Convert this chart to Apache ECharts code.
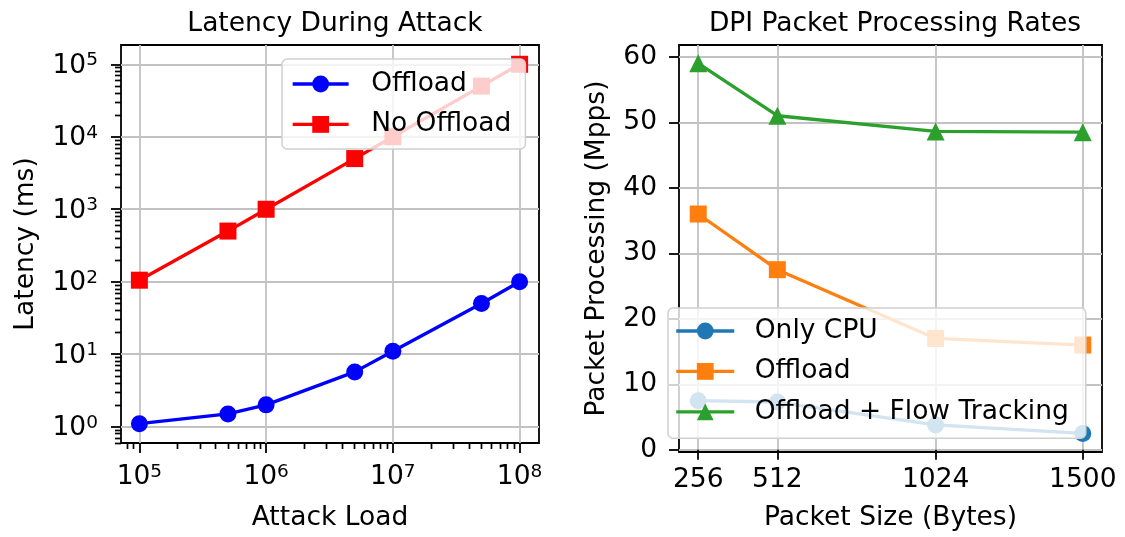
<!DOCTYPE html>
<html>
<head>
<meta charset="utf-8">
<script src="https://cdn.jsdelivr.net/npm/echarts@6/dist/echarts.min.js"></script>
<style>
  html, body { margin: 0; padding: 0; background: #ffffff; }
  #chart { width: 1125px; height: 537px; }
</style>
</head>
<body>
<div id="chart"></div>
<script>
// ---- Left panel: latency during attack (log-log) ----
const attackLoad       = [1e5, 5e5, 1e6, 5e6, 1e7, 5e7, 1e8];
const latencyOffload   = [1.1, 1.5, 2, 5.7, 11, 50, 100];
const latencyNoOffload = [105, 500, 1000, 5000, 10000, 50000, 100000];
const loadTicks        = [1e5, 1e6, 1e7, 1e8];
const latencyTicks     = [1, 10, 100, 1000, 10000, 100000];

// ---- Right panel: DPI packet processing rates ----
const packetSizes  = [256, 512, 1024, 1500];
const rateOnlyCpu  = [7.5, 7.3, 3.8, 2.5];
const rateOffload  = [36, 27.5, 17, 16];
const rateOffFlow  = [59, 51, 48.6, 48.5];
const rateTicks    = [0, 10, 20, 30, 40, 50, 60];

const leftLegend  = ['Offload', 'No Offload'];
const rightLegend = ['Only CPU', 'Offload', 'Offload + Flow Tracking'];

const FONT = 'DejaVu Sans';
const FS = 26.5;
const INK = '#000000';
const GRID_LINE = { show: true, lineStyle: { color: '#c2c2c2', width: 1.8 } };
const TICK = { show: true, length: 10, lineStyle: { color: INK, width: 1.8 } };
const MINOR_TICK = { show: true, length: 6, lineStyle: { color: INK, width: 1.4 } };
// log-axis minor ticks at 2..9 x 10^n (nine linear steps per decade)
const MINOR_SPLIT = Object.assign({ splitNumber: 9 }, MINOR_TICK);

// minor tick values of a log axis at 2..9 x 10^n inside (lo, hi)
function logMinorTicks(lo, hi) {
  const out = [];
  for (let e = Math.floor(Math.log10(lo)); e <= Math.ceil(Math.log10(hi)); e++) {
    for (let k = 2; k <= 9; k++) {
      const v = k * Math.pow(10, e);
      if (v > lo && v < hi) out.push(v);
    }
  }
  return out;
}

const xLeftRange  = [Math.pow(10, 4.855), Math.pow(10, 8.153)];
const yLeftRange  = [Math.pow(10, -0.225), Math.pow(10, 5.266)];
const xRightRange = [193.8, 1562.2];
const yRightRange = [-0.33, 61.8];

// "10^n" labels as rich text with a raised exponent
const powerRich = {
  b: { fontFamily: FONT, fontSize: FS, color: INK, lineHeight: 27, padding: [3, 0, 0, 0] },
  s: { fontFamily: FONT, fontSize: 18.5, color: INK, lineHeight: 17.5, verticalAlign: 'top' }
};
function powerLabel(v) {
  const e = Math.round(Math.log10(v));
  return '{b|10}{s|' + e + '}';
}

const plainLabel = { fontFamily: FONT, fontSize: FS, color: INK, formatter: v => String(v) };
const nameStyle = { fontFamily: FONT, fontSize: FS, color: INK };

const zip = (xs, ys) => xs.map((x, i) => [x, ys[i]]);

// right-panel series carry a prefix so the two "Offload" entries stay distinct
const RP = 'dpi:';
const stripPrefix = n => n.indexOf(RP) === 0 ? n.slice(RP.length) : n;

function lineSeries(name, xi, yi, data, color, symbol, size) {
  return {
    name: name, type: 'line', xAxisIndex: xi, yAxisIndex: yi, data: data,
    symbol: symbol, symbolSize: size, showSymbol: true,
    lineStyle: { color: color, width: 3.3 },
    itemStyle: { color: color },
    emphasis: { disabled: true },
    z: 3
  };
}

const legendCommon = {
  orient: 'vertical',
  selectedMode: false,
  backgroundColor: 'rgba(255,255,255,0.8)',
  borderColor: '#d0d0d0',
  borderWidth: 1.5,
  borderRadius: 5,
  itemHeight: 21,
  itemGap: 13.4,
  lineStyle: { width: 3.3 },
  textStyle: { fontFamily: FONT, fontSize: FS, color: INK, lineHeight: 27 },
  z: 10
};

// left panel twin axes: same range as the main axes, carrying only the minor ticks
const minorX = { type: 'log', gridIndex: 0, min: xLeftRange[0], max: xLeftRange[1], position: 'bottom',
  axisLine: { show: false }, axisLabel: { show: false }, splitLine: { show: false },
  axisTick: Object.assign({ customValues: logMinorTicks(xLeftRange[0], xLeftRange[1]) }, MINOR_TICK) };
const minorY = { type: 'log', gridIndex: 0, min: yLeftRange[0], max: yLeftRange[1], position: 'left',
  axisLine: { show: false }, axisLabel: { show: false }, splitLine: { show: false },
  axisTick: Object.assign({ customValues: logMinorTicks(yLeftRange[0], yLeftRange[1]) }, MINOR_TICK) };

const chart = echarts.init(document.getElementById('chart'), null, { renderer: 'canvas' });

chart.setOption({
  animation: false,
  backgroundColor: '#ffffff',
  title: [
    { text: 'Latency During Attack', left: 330, top: 6, textAlign: 'center',
      textStyle: { fontFamily: FONT, fontSize: FS, fontWeight: 'normal', color: INK } },
    { text: 'DPI Packet Processing Rates', left: 890, top: 6, textAlign: 'center',
      textStyle: { fontFamily: FONT, fontSize: FS, fontWeight: 'normal', color: INK } }
  ],
  grid: [
    { left: 121, top: 45, width: 418, height: 398, show: true, borderColor: INK, borderWidth: 1.8, backgroundColor: 'transparent' },
    { left: 679, top: 45, width: 423, height: 407.5, show: true, borderColor: INK, borderWidth: 1.8, backgroundColor: 'transparent' }
  ],
  xAxis: [
    { type: 'log', gridIndex: 0, min: xLeftRange[0], max: xLeftRange[1], position: 'bottom',
      name: 'Attack Load', nameLocation: 'middle', nameGap: 62, nameTextStyle: nameStyle,
      axisLine: { show: false },
      axisTick: Object.assign({ customValues: loadTicks }, TICK),
      minorTick: MINOR_SPLIT,
      axisLabel: { customValues: loadTicks, formatter: powerLabel, rich: powerRich, margin: 19.5 },
      splitLine: GRID_LINE },
    minorX,
    { type: 'value', gridIndex: 1, min: xRightRange[0], max: xRightRange[1],
      name: 'Packet Size (Bytes)', nameLocation: 'middle', nameGap: 53, nameTextStyle: nameStyle,
      axisLine: { show: false },
      axisTick: Object.assign({ customValues: packetSizes }, TICK),
      axisLabel: Object.assign({ customValues: packetSizes, margin: 15 }, plainLabel),
      splitLine: GRID_LINE }
  ],
  yAxis: [
    { type: 'log', gridIndex: 0, min: yLeftRange[0], max: yLeftRange[1], position: 'left',
      name: 'Latency (ms)', nameLocation: 'middle', nameGap: 81, nameTextStyle: nameStyle,
      axisLine: { show: false },
      axisTick: Object.assign({ customValues: latencyTicks }, TICK),
      minorTick: MINOR_SPLIT,
      axisLabel: { customValues: latencyTicks, formatter: powerLabel, rich: powerRich, margin: 23 },
      splitLine: GRID_LINE },
    minorY,
    { type: 'value', gridIndex: 1, min: yRightRange[0], max: yRightRange[1],
      name: 'Packet Processing (Mpps)', nameLocation: 'middle', nameGap: 68, nameTextStyle: nameStyle,
      axisLine: { show: false },
      axisTick: Object.assign({ customValues: rateTicks }, TICK),
      axisLabel: Object.assign({ customValues: rateTicks, margin: 22 }, plainLabel),
      splitLine: GRID_LINE }
  ],
  legend: [
    Object.assign({}, legendCommon, {
      data: leftLegend, left: 282, top: 59, itemWidth: 56,
      padding: [11.5, 14, 11, 9],
      textStyle: Object.assign({}, legendCommon.textStyle, { padding: [0, 0, 0, 17.5] })
    }),
    Object.assign({}, legendCommon, {
      data: rightLegend.map(n => RP + n), left: 668, top: 308, itemWidth: 58,
      padding: [9.5, 17, 13, 6.6],
      formatter: stripPrefix,
      textStyle: Object.assign({}, legendCommon.textStyle, { padding: [0, 0, 0, 15.5] })
    })
  ],
  series: [
    lineSeries(leftLegend[0], 0, 0, zip(attackLoad, latencyOffload), '#0000ff', 'circle', 17),
    lineSeries(leftLegend[1], 1, 1, zip(attackLoad, latencyNoOffload), '#ff0000', 'rect', 17),
    lineSeries(RP + rightLegend[0], 2, 2, zip(packetSizes, rateOnlyCpu), '#1f77b4', 'circle', 17),
    lineSeries(RP + rightLegend[1], 2, 2, zip(packetSizes, rateOffload), '#ff7f0e', 'rect', 17),
    lineSeries(RP + rightLegend[2], 2, 2, zip(packetSizes, rateOffFlow), '#2ca02c', 'triangle', 18)
  ]
});
</script>
</body>
</html>
